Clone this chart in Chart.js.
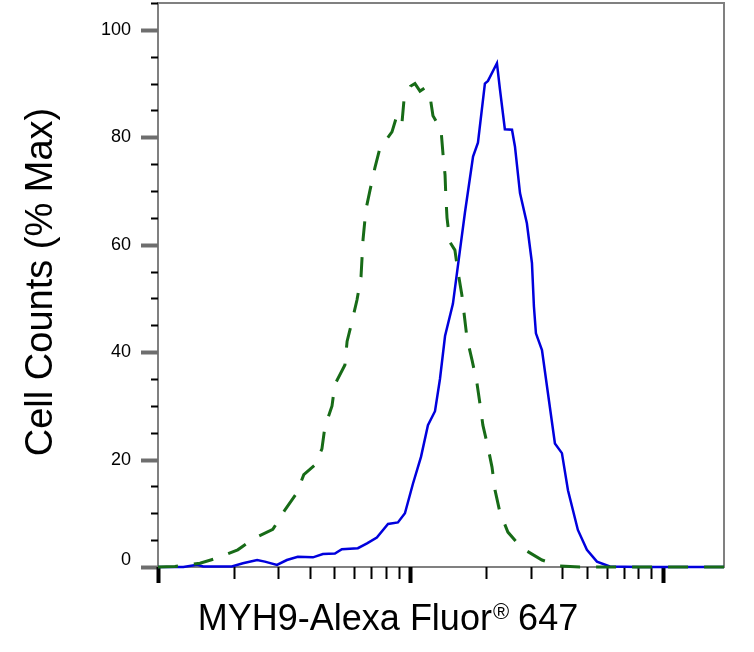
<!DOCTYPE html>
<html>
<head>
<meta charset="utf-8">
<script src="https://cdn.jsdelivr.net/npm/chart.js@4.4.1/dist/chart.umd.min.js"></script>
<style>
  html, body { margin: 0; padding: 0; background: #ffffff; }
  #wrap { width: 754px; height: 652px; position: relative; }
</style>
</head>
<body>
<div id="wrap"><canvas id="c"></canvas></div>
<script>
// ---- Data ----
const blueX = [10, 12.6, 14.3, 15.1, 19.6, 21.7, 24.7, 26.5, 29.6, 32.4, 35.8, 41.1, 45.0, 50.2, 53.5, 61.9, 67.3, 73.6, 81.5, 89.2, 95.1, 102.3, 110.1, 117.3, 125.1, 130.9, 137.1, 147.3, 157.1, 164.4, 177.0, 185.1, 197.2, 202.8, 220.1, 226.1, 236.6, 252.5, 259.4, 271.6, 289.2, 302.9, 308.4, 314.1, 331.9, 347.5, 373.5, 398.1, 420.7, 460.5, 500.0, 548.0, 616.6, 810.8, 1746];
const blueY = [0, 0, 0.4, 0.1, 0.1, 0.7, 1.3, 1.0, 0.4, 1.3, 1.9, 1.8, 2.4, 2.5, 3.3, 3.5, 4.4, 5.5, 8.0, 8.3, 10.0, 15.5, 20.5, 26.4, 29.0, 35.0, 43.0, 49.0, 59.0, 66.0, 76.4, 79.0, 90.0, 90.5, 93.8, 89.0, 81.5, 81.4, 78.3, 69.6, 64.0, 56.6, 48.5, 43.5, 40.4, 33.6, 23.0, 21.2, 14.3, 6.9, 3.2, 1.0, 0.1, 0, 0];

const greenX = [10, 11.67, 14.66, 17.3, 20.7, 24.2, 28.5, 31.8, 35.5, 37.8, 41.9, 44.6, 45.8, 48.9, 50.2, 55.0, 56.1, 58.6, 61.4, 63.7, 64.9, 66.6, 69.2, 72.3, 75.7, 84.5, 88.3, 92.5, 94.3, 100.0, 104.2, 109.1, 114.1, 119.4, 122.8, 132.1, 134.5, 137.1, 138.1, 139.6, 143.3, 150.0, 154.2, 159.9, 167.5, 175.4, 183.2, 188.4, 193.6, 202.8, 210.4, 216.3, 226.1, 243.2, 276.7, 331.9, 390.8, 468.8, 1746];
const greenY = [0, 0.1, 0.7, 1.7, 3.2, 5.4, 7.0, 10.6, 13.8, 17.2, 19.0, 22.0, 26.0, 30.0, 34.0, 37.6, 42.0, 45.6, 49.7, 54.0, 61.0, 66.5, 70.2, 74.3, 78.0, 81.0, 84.0, 82.5, 87.0, 89.5, 90.0, 88.6, 89.2, 87.8, 84.0, 81.5, 77.0, 73.0, 69.0, 65.0, 60.5, 59.0, 55.0, 50.6, 42.6, 38.5, 34.4, 30.5, 26.4, 22.3, 18.6, 14.3, 10.2, 6.5, 3.5, 1.3, 0.2, 0, 0];

const xMin = 10, xMax = 1746;
const yMin = 0, yMax = 105;
const yLabelTicks = [0, 20, 40, 60, 80, 100];
const xDecades = [10, 100, 1000];
const xTitleMain = "MYH9-Alexa Fluor";
const xTitleSup = "\u00AE";
const xTitleTail = " 647";
const yTitle = "Cell Counts (% Max)";

const FONT = '"Liberation Sans", Arial, Helvetica, sans-serif';

function pts(xs, ys) { return xs.map((x, i) => ({ x: x, y: ys[i] })); }

const decor = {
  id: 'decor',
  beforeDatasetsDraw(chart) {
    const ctx = chart.ctx;
    const a = chart.chartArea;
    const xs = chart.scales.x, ys = chart.scales.y;
    ctx.save();
    // frame
    ctx.strokeStyle = '#808080';
    ctx.lineWidth = 2;
    ctx.strokeRect(a.left, a.top, a.right - a.left, a.bottom - a.top);

    // y ticks
    for (let v = yMin; v <= yMax + 0.001; v += 5) {
      const y = Math.round(ys.getPixelForValue(v)) + 0.5;
      ctx.beginPath();
      if (v % 20 === 0) {
        ctx.strokeStyle = '#6e6e6e';
        ctx.lineWidth = 4;
        ctx.moveTo(a.left - 17, y); ctx.lineTo(a.left, y);
      } else {
        ctx.strokeStyle = '#000000';
        ctx.lineWidth = 2;
        ctx.moveTo(a.left - 7, y); ctx.lineTo(a.left, y);
      }
      ctx.stroke();
    }
    // y labels
    ctx.fillStyle = '#000000';
    ctx.font = '18px ' + FONT;
    ctx.textAlign = 'right';
    ctx.textBaseline = 'middle';
    yLabelTicks.forEach(v => {
      let y = ys.getPixelForValue(v);
      if (y > a.bottom - 7) y = a.bottom - 7;
      ctx.fillText(String(v), a.left - 27, y);
    });

    // x ticks (log decades + minor)
    ctx.strokeStyle = '#000000';
    xDecades.forEach(d => {
      for (let m = 1; m <= 9; m++) {
        const v = d * m;
        if (v < xMin || v > xMax) continue;
        const x = Math.round(xs.getPixelForValue(v)) + 0.5;
        ctx.beginPath();
        if (m === 1) {
          ctx.lineWidth = 4;
          ctx.moveTo(x, a.bottom); ctx.lineTo(x, a.bottom + 16);
        } else {
          ctx.lineWidth = 2;
          ctx.moveTo(x, a.bottom); ctx.lineTo(x, a.bottom + 12);
        }
        ctx.stroke();
      }
    });

    // x title with superscript ®
    ctx.fillStyle = '#000000';
    ctx.textBaseline = 'alphabetic';
    ctx.textAlign = 'left';
    ctx.font = '36px ' + FONT;
    const w1 = ctx.measureText(xTitleMain).width;
    const w3 = ctx.measureText(xTitleTail).width;
    ctx.font = '22px ' + FONT;
    const w2 = ctx.measureText(xTitleSup).width;
    const total = w1 + w2 + w3;
    let x0 = 388 - total / 2;
    const base = 630;
    ctx.font = '36px ' + FONT;
    ctx.fillText(xTitleMain, x0, base);
    ctx.font = '22px ' + FONT;
    ctx.fillText(xTitleSup, x0 + w1 + 1, base - 11);
    ctx.font = '36px ' + FONT;
    ctx.fillText(xTitleTail, x0 + w1 + w2, base);

    // y title
    ctx.save();
    ctx.translate(52, 282);
    ctx.rotate(-Math.PI / 2);
    ctx.font = '38px ' + FONT;
    ctx.textAlign = 'center';
    ctx.textBaseline = 'alphabetic';
    ctx.fillText(yTitle, 0, 0);
    ctx.restore();

    ctx.restore();
  }
};

new Chart(document.getElementById('c'), {
  type: 'line',
  data: {
    datasets: [
      {
        label: 'Isotype control',
        data: pts(greenX, greenY),
        borderColor: '#176b17',
        borderWidth: 3,
        borderDash: [20, 16],
        pointRadius: 0,
        tension: 0,
        fill: false,
        clip: false
      },
      {
        label: 'MYH9',
        data: pts(blueX, blueY),
        borderColor: '#0000dd',
        borderWidth: 2.5,
        pointRadius: 0,
        tension: 0,
        fill: false,
        clip: false
      }
    ]
  },
  options: {
    responsive: true,
    maintainAspectRatio: false,
    animation: false,
    layout: { padding: { left: 158, right: 30, top: 3, bottom: 85 } },
    plugins: { legend: { display: false }, tooltip: { enabled: false }, title: { display: false } },
    scales: {
      x: { type: 'logarithmic', min: xMin, max: xMax, display: false },
      y: { type: 'linear', min: yMin, max: yMax, display: false }
    }
  },
  plugins: [decor]
});
</script>
</body>
</html>
